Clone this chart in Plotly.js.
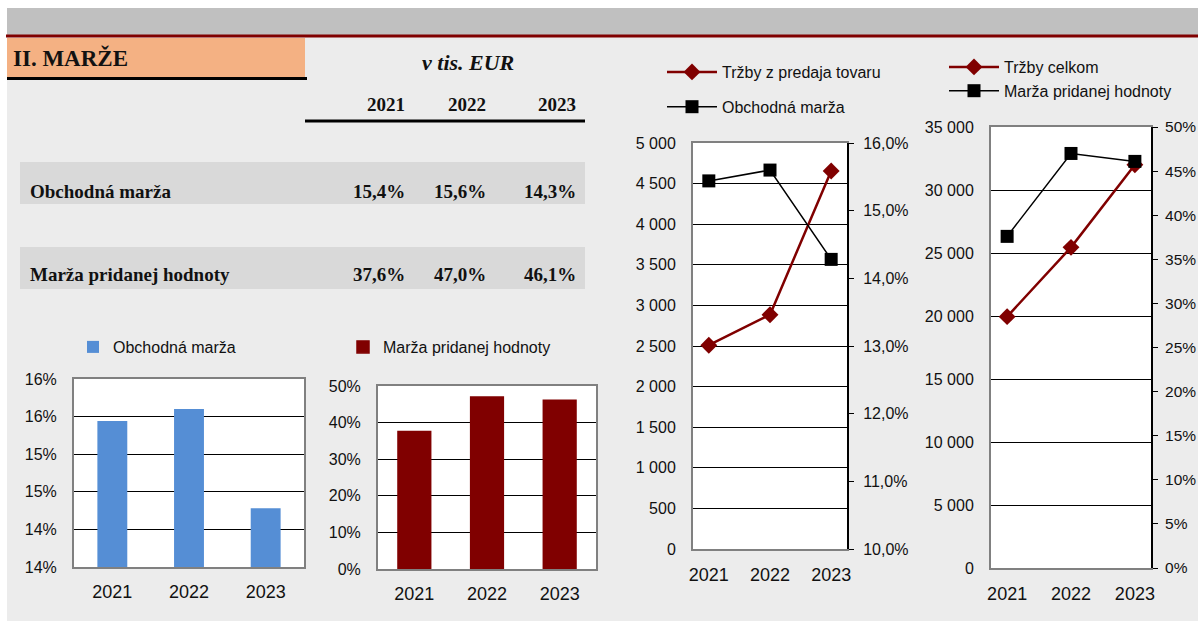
<!DOCTYPE html>
<html><head><meta charset="utf-8">
<script src="https://cdn.plot.ly/plotly-3.0.1.min.js"></script>
<style>html,body{margin:0;padding:0;background:#fff;}#chart{width:1198px;height:623px;}</style>
</head><body><div id="chart"></div>
<script>
// ---- data ----
const years = ['2021', '2022', '2023'];
const obchodnaMarza = [15.44, 15.60, 14.28];          // % (Obchodná marža)
const marzaPridanejHodnoty = [37.6, 47.0, 46.1];      // % (Marža pridanej hodnoty)
const trzbyZPredajaTovaru = [2510, 2885, 4655];       // tis. EUR
const trzbyCelkom = [19950, 25450, 32000];            // tis. EUR
const rowLabels = ['Obchodná marža', 'Marža pridanej hodnoty'];
const chart1TickVals = [13.5, 14, 14.5, 15, 15.5, 16];
const chart1TickText = ['14%', '14%', '15%', '15%', '16%', '16%'];

// ---- layout helpers (pixel -> paper) ----
const W = 1198, H = 623;
const px = x => x / W, py = y => 1 - y / H;
const SANS = 'Liberation Sans, Arial, sans-serif';
const SERIF = 'Liberation Serif, Times New Roman, serif';
const fmtPct = v => v.toFixed(1).replace('.', ',') + '%';

function rect(x0, y0, x1, y1, fill) {
  return {type: 'rect', xref: 'paper', yref: 'paper', x0: px(x0), x1: px(x1), y0: py(y1), y1: py(y0),
          fillcolor: fill, line: {width: 0}, layer: 'below'};
}
function hline(x0, x1, y, color, w) {
  return {type: 'line', xref: 'paper', yref: 'paper', x0: px(x0), x1: px(x1), y0: py(y), y1: py(y),
          line: {color: color, width: w}, layer: 'below'};
}

const shapes = [
  rect(0, 0, 1198, 8, '#ffffff'),
  rect(0, 0, 7, 623, '#ffffff'),
  rect(0, 621, 1198, 623, '#ffffff'),
  rect(7, 8, 1198, 35, '#c0c0c0'),
  hline(6, 1198, 36, '#800000', 3),
  rect(7, 38, 305, 77, '#f4b183'),
  hline(7, 307, 78.5, '#000000', 3),
  hline(305, 585, 121, '#000000', 3),
  rect(20, 162, 585, 204, '#d9d9d9'),
  rect(20, 247, 585, 289, '#d9d9d9')
];

const annotations = [];
function txt(text, x, y, anchor, size, opts) {
  annotations.push({
    text: text, xref: 'paper', yref: 'paper', x: px(x), y: py(y), xanchor: anchor, yanchor: 'middle',
    showarrow: false, font: Object.assign({family: SERIF, size: size, color: '#111', weight: 'bold'}, (opts || {}))
  });
}
txt('II. MARŽE', 11, 58, 'left', 23);
txt('v tis. EUR', 468, 62, 'center', 22, {style: 'italic'});
const colRight = [407, 488, 578];
years.forEach((yr, i) => txt(yr, colRight[i], 105, 'right', 19));
txt(rowLabels[0], 28, 191, 'left', 19);
txt(rowLabels[1], 28, 275, 'left', 19);
obchodnaMarza.forEach((v, i) => txt(fmtPct(v), colRight[i], 191, 'right', 19));
marzaPridanejHodnoty.forEach((v, i) => txt(fmtPct(v), colRight[i], 275, 'right', 19));

// ---- traces ----
const RED = '#800000';
const traces = [
  {type: 'bar', x: years, y: obchodnaMarza, xaxis: 'x', yaxis: 'y', name: 'Obchodná marža',
   marker: {color: '#558ed5'}, width: 0.39, legend: 'legend'},
  {type: 'bar', x: years, y: marzaPridanejHodnoty, xaxis: 'x2', yaxis: 'y2', name: 'Marža pridanej hodnoty',
   marker: {color: RED, line: {color: RED, width: 1.5}}, width: 0.45, legend: 'legend2'},
  {type: 'scatter', mode: 'lines+markers', x: years, y: trzbyZPredajaTovaru, xaxis: 'x3', yaxis: 'y3',
   name: 'Tržby z predaja tovaru', line: {color: RED, width: 2.5}, marker: {symbol: 'diamond', size: 13, color: RED},
   legend: 'legend3', legendgroup: 'a'},
  {type: 'scatter', mode: 'lines+markers', x: years, y: obchodnaMarza, xaxis: 'x3', yaxis: 'y4',
   name: 'Obchodná marža', line: {color: '#000', width: 1.5}, marker: {symbol: 'square', size: 13, color: '#000'},
   legend: 'legend3', legendgroup: 'b'},
  {type: 'scatter', mode: 'lines+markers', x: years, y: trzbyCelkom, xaxis: 'x4', yaxis: 'y5',
   name: 'Tržby celkom', line: {color: RED, width: 2.5}, marker: {symbol: 'diamond', size: 13, color: RED},
   legend: 'legend4'},
  {type: 'scatter', mode: 'lines+markers', x: years, y: marzaPridanejHodnoty, xaxis: 'x4', yaxis: 'y6',
   name: 'Marža pridanej hodnoty', line: {color: '#000', width: 1.5}, marker: {symbol: 'square', size: 13, color: '#000'},
   legend: 'legend4'}
];

const GRAY = '#808080';
function xax(x0, x1, anchor, standoff) {
  return {domain: [px(x0), px(x1)], anchor: anchor, type: 'category', showgrid: false, zeroline: false,
          showline: true, mirror: true, linecolor: GRAY, linewidth: 2, ticks: '',
          tickfont: {family: SANS, size: 18, color: '#111'}, ticklabelstandoff: standoff, fixedrange: true};
}
function yax(y0, y1, anchor, extra) {
  return Object.assign({domain: [py(y1), py(y0)], anchor: anchor, showgrid: true, gridcolor: '#000', gridwidth: 1,
          zeroline: false, showline: true, mirror: true, linecolor: GRAY, linewidth: 2, ticks: '',
          tickfont: {family: SANS, size: 16, color: '#111'}, ticklabelstandoff: 12, fixedrange: true}, extra);
}
function rax(overlay, anchor, extra) {
  return Object.assign({overlaying: overlay, anchor: anchor, side: 'right', showgrid: false, zeroline: false,
          showline: true, linecolor: '#000', linewidth: 2, ticks: 'outside', ticklen: 5, tickcolor: '#000',
          tickfont: {family: SANS, size: 16, color: '#111'}, ticklabelstandoff: 6, fixedrange: true}, extra);
}

const legendBase = {bgcolor: 'rgba(0,0,0,0)', borderwidth: 0, xanchor: 'left', yanchor: 'top',
                    font: {family: SANS, size: 16, color: '#111'}};

const layout = {
  width: W, height: H, margin: {l: 0, r: 0, t: 0, b: 0},
  paper_bgcolor: '#ececec', plot_bgcolor: '#ffffff',
  separators: ', ', hovermode: false,
  shapes: shapes, annotations: annotations,
  xaxis: xax(74, 304, 'y', 7),
  yaxis: yax(379, 567, 'x', {range: [13.5, 16], tickvals: chart1TickVals, ticktext: chart1TickText}),
  xaxis2: xax(378, 596, 'y2', 7),
  yaxis2: yax(386, 569, 'x2', {range: [0, 50], dtick: 10, ticksuffix: '%'}),
  xaxis3: xax(693, 847, 'y3', 8),
  yaxis3: yax(143, 549, 'x3', {range: [0, 5000], dtick: 500, tickformat: ',.0f', mirror: false}),
  yaxis4: rax('y3', 'x3', {range: [10, 16], dtick: 1, tickformat: '.1f', ticksuffix: '%'}),
  xaxis4: xax(991, 1151, 'y5', 8),
  yaxis5: yax(127, 568, 'x4', {range: [0, 35000], dtick: 5000, tickformat: ',.0f', mirror: false}),
  yaxis6: rax('y5', 'x4', {range: [0, 50], dtick: 5, ticksuffix: '%', ticklabelstandoff: 4,
                           tickfont: {family: SANS, size: 15.5, color: '#111'}}),
  showlegend: true,
  legend: Object.assign({}, legendBase, {x: px(73), y: py(330)}),
  legend2: Object.assign({}, legendBase, {x: px(343), y: py(330)}),
  legend3: Object.assign({}, legendBase, {x: px(662), y: py(55), tracegroupgap: 11, itemwidth: 50}),
  legend4: Object.assign({}, legendBase, {x: px(944), y: py(50), itemwidth: 50})
};

Plotly.newPlot('chart', traces, layout, {staticPlot: true, displayModeBar: false});
</script>
</body></html>
